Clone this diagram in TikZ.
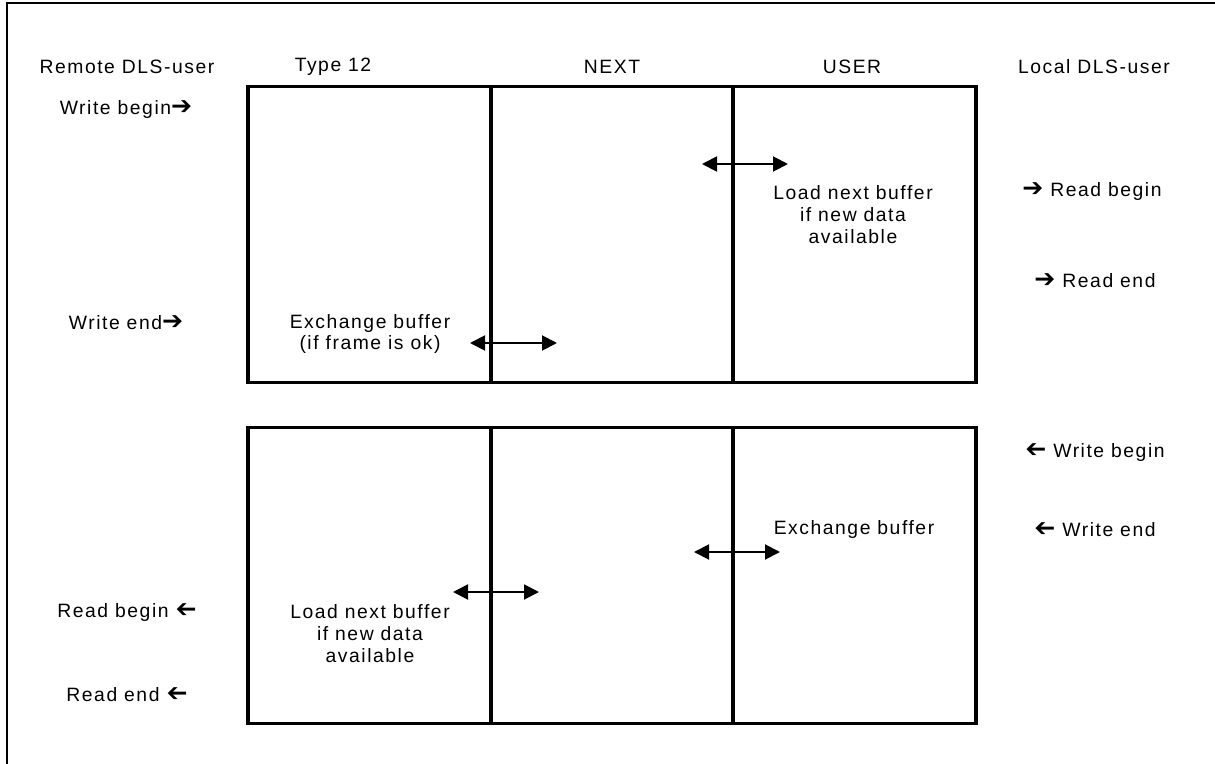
\documentclass[tikz,border=0pt]{standalone}
\usepackage{graphicx}
\usepackage{fontspec}
\setmainfont{Liberation Sans}[LetterSpace=8]
\newfontfamily\symfont{DejaVu Sans}
\usetikzlibrary{positioning,arrows.meta}
\newcommand{\rarr}{{\symfont\bfseries\scalebox{1.3}{➔}}}
\newcommand{\larr}{{\symfont\bfseries\reflectbox{\scalebox{1.3}{➔}}}}

\begin{document}
\begin{tikzpicture}[
        x=0.02cm, y=-0.02cm,
        column/.style={
            % The shape
            rectangle,
            minimum width=4.85cm,
            minimum height=5.92cm,
            outer sep=0pt,
            % The border
            line width=2.2pt,
            draw=black
        },
        note/.style={
            % The color
            color=black,
            % Font
            font=\fontsize{11}{12.5}\selectfont,
            align=center,
            inner sep=0pt
        },
        exchange/.style={
            <->,
            >={Triangle[length=0.3cm,width=0.3cm]},
            line width=1.1pt
        },
        outline/.style={
            line width=1.4pt,
            draw=black
        }
    ]
        \useasboundingbox (0,0) rectangle (1215,764);
        \draw[outline] (1215,3) -- (7,3) -- (7,764);

        % headings
        \node (remoteUser) [note] at (127,67) {Remote DLS-user};
        \node (type12) [note] at (333,67) {Type 12};
        \node (next) [note] at (612,67) {NEXT};
        \node (user) [note] at (852,67) {USER};
        \node (localUser) [note] at (1094,67) {Local DLS-user};

        % upper buffers
        \node (upType) [column] at (369.5,234.5) {};
        \node (upNext) [column,right=0pt of upType] {};
        \node (upUser) [column,right=0pt of upNext] {};

        % lower buffers
        \node (lowType) [column] at (369.5,575.5) {};
        \node (lowNext) [column,right=0pt of lowType] {};
        \node (lowUser) [column,right=0pt of lowNext] {};

        % remote side
        \node (writeBeginR) [note] at (126,110) {Write begin\rarr};
        \node (writeEndR) [note] at (126,323) {Write end\rarr};
        \node (readBeginR) [note] at (127,612) {Read begin \larr};
        \node (readEndR) [note] at (127,695) {Read end \larr};

        % local side
        \node (readBeginL) [note] at (1092,192) {\rarr\ Read begin};
        \node (readEndL) [note] at (1095,281) {\rarr\ Read end};
        \node (writeBeginL) [note] at (1095,452) {\larr\ Write begin};
        \node (writeEndL) [note] at (1095,530) {\larr\ Write end};

        % actions
        \node (loadUp) [note] at (853,215) {Load next buffer\\if new data\\available};
        \coordinate (loadUpA) at (702,164);
        \coordinate (loadUpB) at (788,164);
        \path (loadUpA) edge[exchange] (loadUpB);

        \node (exchUp) [note] at (370,334) {Exchange buffer\\(if frame is ok)};
        \coordinate (exchUpA) at (470,343);
        \coordinate (exchUpB) at (557,343);
        \path (exchUpA) edge[exchange] (exchUpB);

        \node (exchLow) [note] at (854,530) {Exchange buffer};
        \coordinate (exchLowA) at (694,552);
        \coordinate (exchLowB) at (780,552);
        \path (exchLowA) edge[exchange] (exchLowB);

        \node (loadLow) [note] at (370,634) {Load next buffer\\if new data\\available};
        \coordinate (loadLowA) at (453,592);
        \coordinate (loadLowB) at (539,592);
        \path (loadLowA) edge[exchange] (loadLowB);

    \end{tikzpicture}
\end{document}
